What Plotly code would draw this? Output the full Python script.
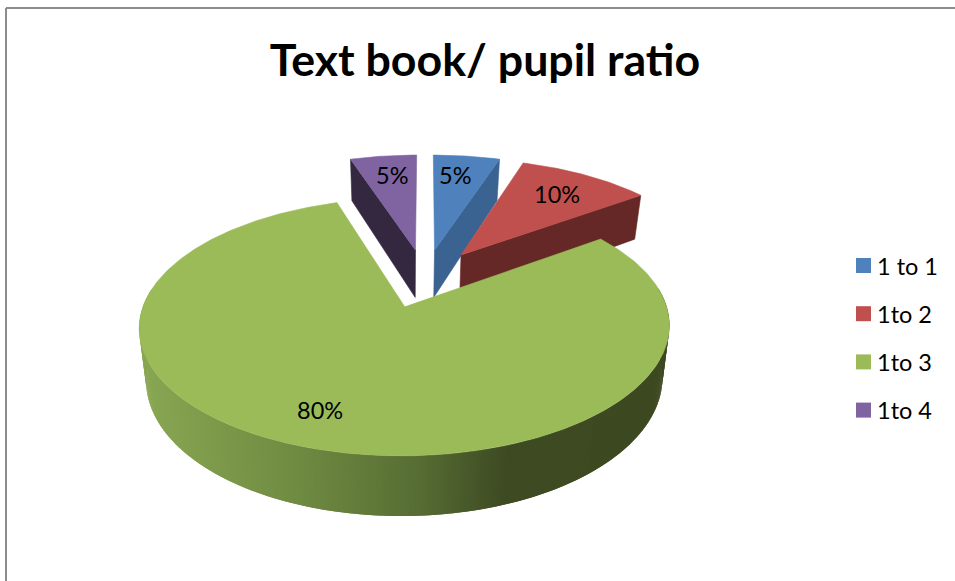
import math
import plotly.graph_objects as go

TITLE = "Text book/ pupil ratio"
categories = ["1 to 1", "1to 2", "1to 3", "1to 4"]
values = [5, 10, 80, 5]
top_colors = ["#4f81bd", "#c0504d", "#9bbb59", "#8064a2"]
side_colors = ["#3a6391", "#652826", "#3d4921", "#33283f"]
draw_order = [3, 0, 1, 2]
label_radius = [0.77, 0.75, 0.78, 0.78]
label_frac = [0.4, 0.5, 0.51, 0.55]
gradient_x = [145, 300, 420, 505, 680]
gradient_rgb = [(136, 166, 82), (110, 138, 65), (86, 108, 51), (62, 74, 34), (61, 73, 33)]

W, H = 955, 581
CX, CY, A, B, P, EXPLODE, DEPTH = 425, 278, 252.5, 117, 0.15, 0.25, 49
TAPER_X, TAPER = 405, 0.026
LEGEND_X, LEGEND_Y, LEGEND_STEP = 863.5, 265.5, 48.2


def project(X, Y, z=0.0):
    w = 1 / (1 + P * Y)
    x = CX + A * X * w
    return TAPER_X + (x - TAPER_X) * (1 - TAPER * z), CY - B * Y * w + z * DEPTH * w


def shade(x):
    if x <= gradient_x[0]:
        return "rgb%s" % (gradient_rgb[0],)
    for i in range(len(gradient_x) - 1):
        if x <= gradient_x[i + 1]:
            t = (x - gradient_x[i]) / (gradient_x[i + 1] - gradient_x[i])
            c = [round(a + (b - a) * t) for a, b in zip(gradient_rgb[i], gradient_rgb[i + 1])]
            return "rgb(%d,%d,%d)" % tuple(c)
    return "rgb%s" % (gradient_rgb[-1],)


fig = go.Figure()


def poly(points, color, edge=0.6):
    xs = [p[0] for p in points] + [points[0][0]]
    ys = [p[1] for p in points] + [points[0][1]]
    fig.add_trace(go.Scatter(x=xs, y=ys, mode="lines", fill="toself", fillcolor=color,
                             line=dict(color=color, width=edge), hoverinfo="skip", showlegend=False))


total = sum(values)
spans = []
acc = 0.0
for v in values:
    spans.append((acc, acc + 360.0 * v / total))
    acc += 360.0 * v / total

annotations = []
for i in draw_order:
    start, end = spans[i]
    mid = math.radians((start + end) / 2)
    ox, oy = EXPLODE * math.sin(mid), EXPLODE * math.cos(mid)
    steps = max(4, int((end - start) * 1.5))
    angles = [math.radians(start + (end - start) * k / steps) for k in range(steps + 1)]
    rim = [(ox + math.sin(t), oy + math.cos(t)) for t in angles]

    # only the faces that look toward the viewer are painted
    if math.sin(angles[0]) < -1e-9:
        X, Y = rim[0]
        poly([project(ox, oy), project(X, Y), project(X, Y, 1), project(ox, oy, 1)], side_colors[i])
    if math.sin(angles[-1]) > 1e-9:
        X, Y = rim[-1]
        poly([project(ox, oy), project(X, Y), project(X, Y, 1), project(ox, oy, 1)], side_colors[i])
    for k in range(steps - 1):
        if math.cos(angles[k + 1]) < 0.15:
            a, b = rim[k], rim[k + 2]
            quad = [project(*a), project(*b), project(*b, 1), project(*a, 1)]
            poly(quad, shade((quad[0][0] + quad[1][0]) / 2), edge=0)
    poly([project(ox, oy)] + [project(X, Y) for X, Y in rim], top_colors[i])

    la = math.radians(start + (end - start) * label_frac[i])
    lx, ly = project(ox + label_radius[i] * math.sin(la), oy + label_radius[i] * math.cos(la))
    annotations.append(dict(x=lx, y=ly, xref="x", yref="y", text="%d%%" % values[i], showarrow=False,
                            font=dict(family="Lato", size=23.5, color="#000000")))

for row, (name, color) in enumerate(zip(categories, top_colors)):
    ly = LEGEND_Y + row * LEGEND_STEP
    fig.add_trace(go.Scatter(x=[LEGEND_X], y=[ly], mode="markers", name=name, showlegend=False, hoverinfo="name",
                             marker=dict(symbol="square", size=15, color=color, line=dict(width=0))))
    annotations.append(dict(x=LEGEND_X + 11.5, y=ly, xref="x", yref="y", text=name, showarrow=False,
                            xanchor="left", yanchor="middle",
                            font=dict(family="Lato", size=23.5, color="#000000")))

fig.update_layout(
    width=W, height=H, autosize=False,
    margin=dict(l=0, r=0, t=0, b=0),
    paper_bgcolor="white", plot_bgcolor="white",
    showlegend=False,
    xaxis=dict(range=[0, W], visible=False, fixedrange=True),
    yaxis=dict(range=[H, 0], visible=False, fixedrange=True),
    title=dict(text=TITLE, x=485 / W, xanchor="center", y=1 - 60 / H, yanchor="middle",
               font=dict(family="Lato", size=44.7, color="#000000", weight="bold")),
    annotations=annotations,
    shapes=[
        dict(type="line", xref="x", yref="y", x0=6, x1=W, y0=8, y1=8, line=dict(color="#8c8c8c", width=2)),
        dict(type="line", xref="x", yref="y", x0=6, x1=6, y0=8, y1=H, line=dict(color="#8c8c8c", width=2)),
    ],
)

fig.write_html("out.html", config={"displayModeBar": False},
               post_script="document.body.style.margin='0';document.documentElement.style.overflow='hidden';")
